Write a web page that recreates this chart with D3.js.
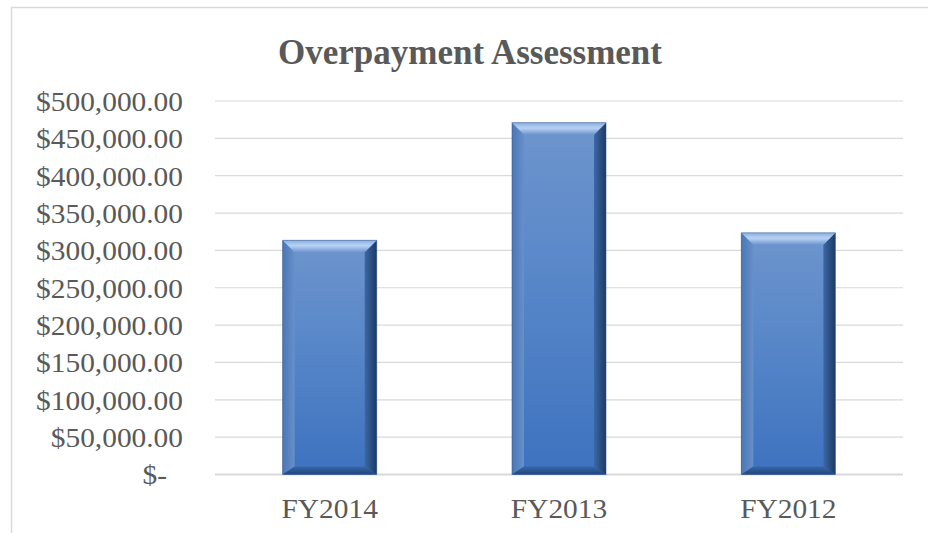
<!DOCTYPE html>
<html lang="en">
  <head>
    <meta charset="UTF-8" />
    <title>overpayment</title>
    <style>
      body { margin: 0; background: #fff; }
      text { font-family: "Liberation Serif", "Times New Roman", serif; fill: #595959; }
    </style>
  </head>
  <body>
    <svg width="928" height="533" id="svg"></svg>
    <script src="https://cdnjs.cloudflare.com/ajax/libs/d3/7.8.5/d3.min.js"></script>
    <script>
      // data
      const categories = ["FY2014", "FY2013", "FY2012"];
      const values = [313500, 471000, 323500];
      const yTicks = [0, 50000, 100000, 150000, 200000, 250000, 300000, 350000, 400000, 450000, 500000];
      const title = "Overpayment Assessment";

      const svg = d3.select("#svg");
      const sx = 1.05; // text looks a bit stretched sideways

      const x = d3.scaleBand().domain(categories).range([215, 903]).paddingInner(0.59).paddingOuter(0.295);
      const y = d3.scaleLinear().domain([0, 500000]).range([474.5, 101]);

      // chart frame
      svg.append("rect")
        .attr("x", 11.5).attr("y", 7.5)
        .attr("width", 940).attr("height", 560)
        .attr("fill", "#fff").attr("stroke", "#d9d9d9").attr("stroke-width", 1.5);

      const defs = svg.append("defs");
      function grad(id, x2, y2, stops) {
        const gr = defs.append("linearGradient").attr("id", id)
          .attr("x1", 0).attr("y1", 0).attr("x2", x2).attr("y2", y2);
        stops.forEach(s => gr.append("stop").attr("offset", s[0]).attr("stop-color", s[1]));
      }
      grad("body", 0, 1, [[0, "#6e95cd"], [0.5, "#5585c8"], [1, "#3e72bf"]]);
      grad("topBevel", 0, 1, [[0, "#8cafe0"], [0.45, "#b8d2f4"], [1, "#6c95cf"]]);
      grad("leftBevel", 1, 0, [[0, "#4a77b5"], [1, "#6790cb"]]);
      grad("rightBevel", 1, 0, [[0, "#3d68a6"], [1, "#1d3a63"]]);
      grad("botBevel", 0, 1, [[0, "#3767ab"], [1, "#22457a"]]);

      // gridlines
      svg.append("g").selectAll("line")
        .data(yTicks)
        .join("line")
        .attr("x1", 215).attr("x2", 903)
        .attr("y1", d => y(d)).attr("y2", d => y(d))
        .attr("stroke", "#d9d9d9")
        .attr("stroke-width", d => d === 0 ? 2 : 1.2);

      // y labels
      const fmt = d3.format(",.2f");
      svg.append("g").selectAll("text")
        .data(yTicks)
        .join("text")
        .attr("transform", d => `translate(${d === 0 ? 167 : 183},${y(d)}) scale(${sx},1)`)
        .attr("dy", "0.35em")
        .attr("text-anchor", "end")
        .attr("font-size", 28)
        .text(d => d === 0 ? "$-" : "$" + fmt(d));

      // bars with bevel look
      const b = 12;
      const bars = svg.append("g").selectAll("g")
        .data(categories.map((c, i) => ({ c, v: values[i] })))
        .join("g");

      bars.append("rect")
        .attr("x", d => x(d.c)).attr("y", d => y(d.v))
        .attr("width", x.bandwidth()).attr("height", d => y(0) - y(d.v))
        .attr("fill", "url(#body)");

      function poly(sel, fill, pts) {
        sel.append("polygon").attr("fill", fill)
          .attr("points", d => pts(x(d.c), y(d.v), x(d.c) + x.bandwidth(), y(0)).map(p => p.join(",")).join(" "));
      }
      poly(bars, "url(#leftBevel)", (x0, y0, x1, y1) => [[x0, y0], [x0 + b, y0 + b], [x0 + b, y1 - 8], [x0, y1]]);
      poly(bars, "url(#rightBevel)", (x0, y0, x1, y1) => [[x1, y0], [x1 - b, y0 + b], [x1 - b, y1 - 8], [x1, y1]]);
      poly(bars, "url(#botBevel)", (x0, y0, x1, y1) => [[x0, y1], [x0 + b, y1 - 8], [x1 - b, y1 - 8], [x1, y1]]);
      poly(bars, "url(#topBevel)", (x0, y0, x1, y1) => [[x0, y0], [x1, y0], [x1 - b, y0 + b], [x0 + b, y0 + b]]);
      bars.append("rect")
        .attr("x", d => x(d.c)).attr("y", d => y(d.v))
        .attr("width", x.bandwidth()).attr("height", d => y(0) - y(d.v))
        .attr("fill", "none").attr("stroke", "#35598c").attr("stroke-opacity", 0.5);

      // x labels
      svg.append("g").selectAll("text")
        .data(categories)
        .join("text")
        .attr("transform", d => `translate(${x(d) + x.bandwidth() / 2},518) scale(${sx},1)`)
        .attr("text-anchor", "middle")
        .attr("font-size", 28)
        .text(d => d);

      // title
      svg.append("text")
        .attr("x", 470).attr("y", 64)
        .attr("text-anchor", "middle")
        .attr("font-size", 35)
        .attr("font-weight", "bold")
        .text(title);
    </script>
  </body>
</html>
